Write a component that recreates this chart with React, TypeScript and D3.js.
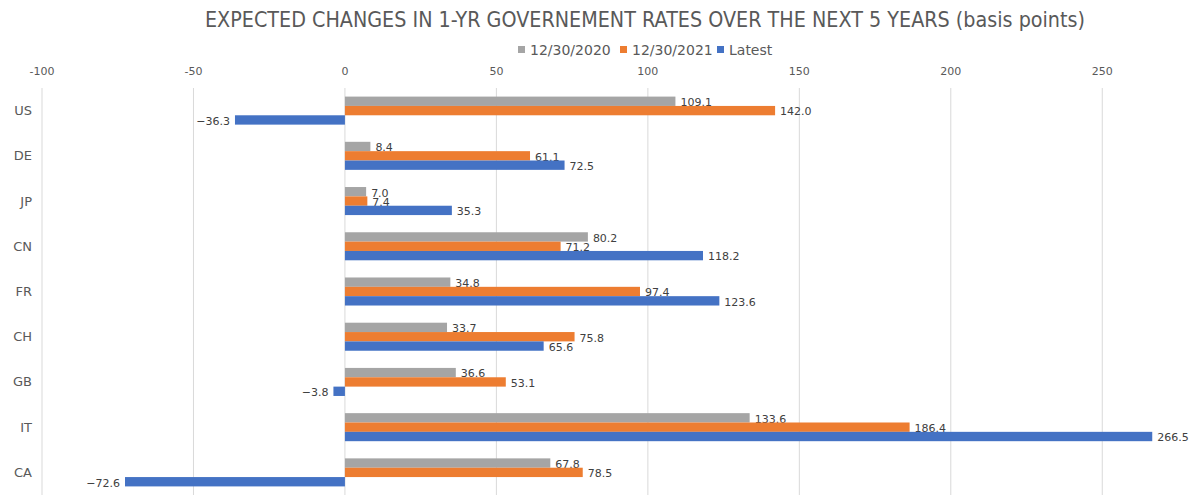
import { useEffect } from "react";
import * as d3 from "d3";

const countries = ["US", "DE", "JP", "CN", "FR", "CH", "GB", "IT", "CA"];
const seriesNames = ["12/30/2020", "12/30/2021", "Latest"];
const seriesColors = ["#A5A5A5", "#ED7D31", "#4472C4"];
const values2020 = [109.1, 8.4, 7.0, 80.2, 34.8, 33.7, 36.6, 133.6, 67.8];
const values2021 = [142.0, 61.1, 7.4, 71.2, 97.4, 75.8, 53.1, 186.4, 78.5];
const valuesLatest = [-36.3, 72.5, 35.3, 118.2, 123.6, 65.6, -3.8, 266.5, -72.6];
const xTicks = [-100, -50, 0, 50, 100, 150, 200, 250];

const FONT = "'DejaVu Sans', sans-serif";

export default function App() {
  useEffect(() => {
    document.body.style.margin = "0";
  }, []);

  const width = 1200;
  const height = 503;
  const plot = { left: 42, right: 1158, top: 88, bottom: 495 };

  const x = d3.scaleLinear().domain([-100, 268.4]).range([plot.left, plot.right]);
  const y = d3
    .scaleBand<string>()
    .domain(countries)
    .range([plot.top, plot.bottom])
    .paddingInner(0.38)
    .paddingOuter(0.19);
  const sub = d3.scaleBand<number>().domain([0, 1, 2]).range([0, y.bandwidth()]);

  const series = [values2020, values2021, valuesLatest];
  const legendX = [518, 620, 717];

  return (
    <svg
      width={width}
      height={height}
      style={{ position: "absolute", left: 0, top: 0, background: "#fff", fontFamily: FONT }}
    >
      <text
        x={645}
        y={27}
        textAnchor="middle"
        fontSize={21}
        fill="#595959"
        textLength={880}
        lengthAdjust="spacingAndGlyphs"
      >
        EXPECTED CHANGES IN 1-YR GOVERNEMENT RATES OVER THE NEXT 5 YEARS (basis points)
      </text>

      {/* legend */}
      {seriesNames.map((name, i) => (
        <g key={name} transform={`translate(${legendX[i]},50)`}>
          <rect x={0} y={-4} width={7} height={7} fill={seriesColors[i]} />
          <text x={12} y={0} dy="0.35em" fontSize={14} fill="#595959">
            {name}
          </text>
        </g>
      ))}

      {/* gridlines + ticks */}
      {xTicks.map((t) => (
        <g key={t}>
          <line x1={x(t)} x2={x(t)} y1={plot.top} y2={plot.bottom} stroke="#D9D9D9" strokeWidth={1} />
          <text x={x(t)} y={75} textAnchor="middle" fontSize={11} fill="#595959">
            {t < 0 ? `-${Math.abs(t)}` : t}
          </text>
        </g>
      ))}

      {/* bars */}
      {countries.map((c, ci) => (
        <g key={c}>
          <text
            x={32}
            y={(y(c) ?? 0) + y.bandwidth() / 2}
            dy="0.35em"
            textAnchor="end"
            fontSize={13}
            fill="#595959"
          >
            {c}
          </text>
          {series.map((vals, si) => {
            const v = vals[ci];
            const by = (y(c) ?? 0) + (sub(si) ?? 0);
            const x0 = x(Math.min(0, v));
            const x1 = x(Math.max(0, v));
            return (
              <g key={si}>
                <rect x={x0} y={by} width={Math.max(1, x1 - x0)} height={sub.bandwidth()} fill={seriesColors[si]} />
                <text
                  x={v >= 0 ? x1 + 5 : x0 - 5}
                  y={by + sub.bandwidth() / 2 + 1}
                  dy="0.35em"
                  textAnchor={v >= 0 ? "start" : "end"}
                  fontSize={11}
                  fill="#404040"
                >
                  {v < 0 ? `\u2212${Math.abs(v).toFixed(1)}` : v.toFixed(1)}
                </text>
              </g>
            );
          })}
        </g>
      ))}
    </svg>
  );
}
